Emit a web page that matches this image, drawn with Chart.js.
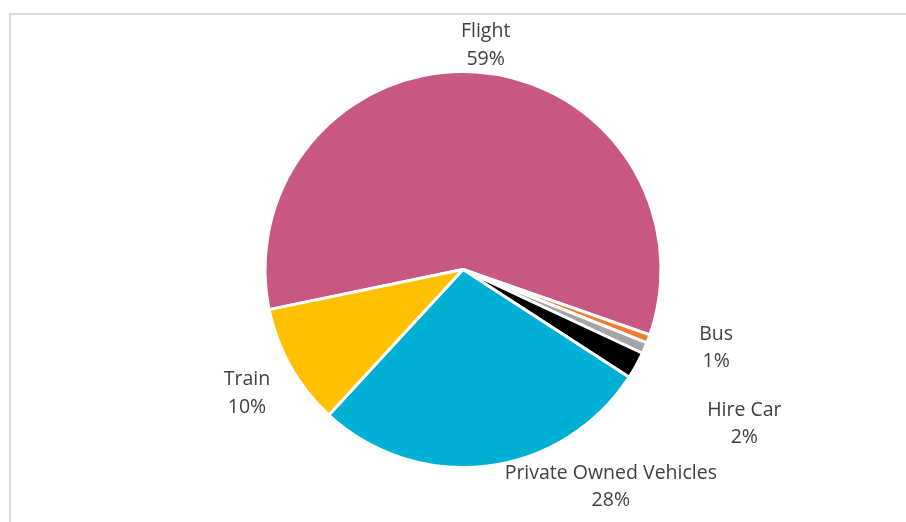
<!DOCTYPE html>
<html>
<head>
<meta charset="utf-8">
<script src="https://cdn.jsdelivr.net/npm/chart.js@4/dist/chart.umd.min.js"></script>
<style>
  html, body { margin: 0; padding: 0; background: #fff; }
  #wrap { position: relative; width: 906px; height: 522px; overflow: hidden; }
  #frame { position: absolute; left: 9px; top: 13px; width: 920px; height: 540px;
           border-left: 2px solid #d9d9d9; border-top: 2px solid #d9d9d9; }
  canvas { position: absolute; left: 0; top: 0; }
</style>
</head>
<body>
<div id="wrap">
  <div id="frame"></div>
  <canvas id="pieChart" width="906" height="522"></canvas>
</div>
<script>
// categories and share of trips (percent)
const modes = ['Flight', 'Bus', '', 'Hire Car', 'Private Owned Vehicles', 'Train'];
const shares = [58.6, 0.7, 0.9, 2.2, 27.7, 9.9];
const sliceColors = ['#c85883', '#ed7d31', '#a5a5a5', '#000000', '#00b0d4', '#ffc000'];

// where each label sits: angle shift (deg) and distance past the rim (px)
const labelPlace = [
    { da: 2, dr: 27 },
    { da: -3.3, dr: 67 },
    null,
    { da: -0.2, dr: 123 },
    { da: -27, dr: 65 },
    { da: -0.3, dr: 51 }
];

// draw the outside labels (name + percent) for each slice
const pieLabels = {
    id: 'pieLabels',
    afterDatasetsDraw(chart) {
        const ctx = chart.ctx;
        const meta = chart.getDatasetMeta(0);
        const total = shares.reduce((a, b) => a + b, 0);
        ctx.save();
        ctx.font = '19.5px "Open Sans"';
        ctx.fillStyle = '#404040';
        ctx.textAlign = 'center';
        ctx.textBaseline = 'middle';
        meta.data.forEach(function (arc, i) {
            const place = labelPlace[i];
            if (!place || !modes[i]) return;
            const mid = (arc.startAngle + arc.endAngle) / 2 + place.da * Math.PI / 180;
            const r = arc.outerRadius + place.dr;
            const x = arc.x + Math.cos(mid) * r;
            const y = arc.y + Math.sin(mid) * r;
            const pct = Math.round(shares[i] / total * 100) + '%';
            ctx.fillText(modes[i], x, y - 13.75);
            ctx.fillText(pct, x, y + 13.75);
        });
        ctx.restore();
    }
};

const config = {
    type: 'pie',
    data: {
        labels: modes,
        datasets: [{
            data: shares,
            backgroundColor: sliceColors,
            borderColor: '#ffffff',
            borderWidth: 3,
            hoverOffset: 0
        }]
    },
    options: {
        responsive: false,
        animation: false,
        rotation: 258.3,
        layout: {
            padding: { left: 20, right: 0, top: 70, bottom: 53 }
        },
        plugins: {
            legend: { display: false },
            tooltip: { enabled: false }
        }
    },
    plugins: [pieLabels]
};

const myChart = new Chart(document.getElementById('pieChart'), config);
</script>
</body>
</html>
